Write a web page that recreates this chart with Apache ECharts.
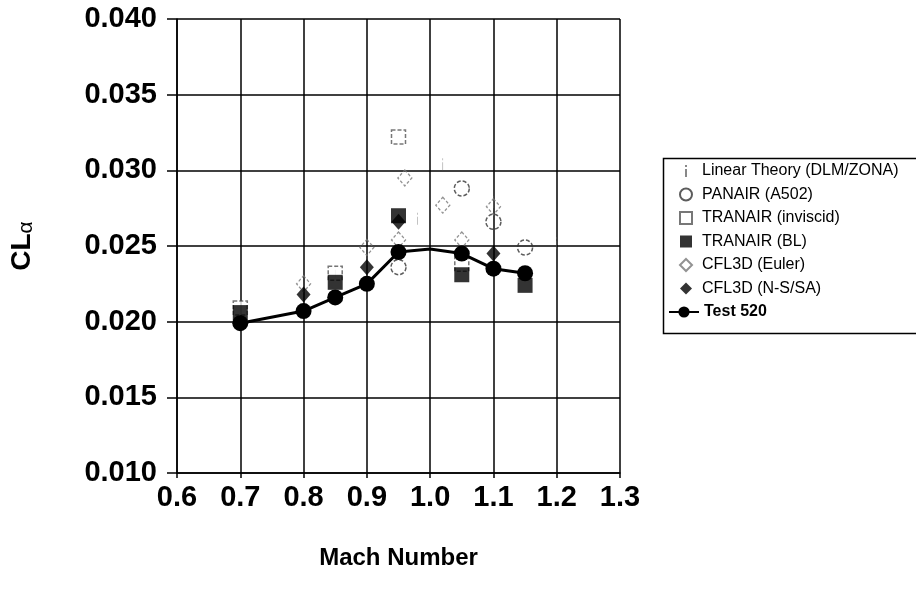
<!DOCTYPE html>
<html><head><meta charset="utf-8">
<script src="https://cdn.jsdelivr.net/npm/echarts@6/dist/echarts.min.js"></script>
<style>html,body{margin:0;padding:0;background:#fff}#c{width:916px;height:597px}</style>
</head><body><div id="c"></div>
<script>
// ---- data ----
const yTicks = [0.010, 0.015, 0.020, 0.025, 0.030, 0.035, 0.040];
const xTicks = [0.6, 0.7, 0.8, 0.9, 1.0, 1.1, 1.2, 1.3];
const linearTheory = [[0.7,0.0208],[0.85,0.0233],[0.98,0.0268],[1.02,0.0304],[1.1,0.0279],[1.2,0.0252]];
const panair = [[0.95,0.0236],[1.05,0.0288],[1.1,0.0266],[1.15,0.0249]];
const tranairInviscid = [[0.7,0.0209],[0.85,0.0232],[0.95,0.0322],[1.05,0.0238]];
const tranairBL = [[0.7,0.0206],[0.85,0.0226],[0.95,0.0270],[1.05,0.0231],[1.15,0.0224]];
const cfl3dEuler = [[0.8,0.0225],[0.9,0.0249],[0.95,0.0254],[0.96,0.0295],[1.02,0.0277],[1.05,0.0254],[1.1,0.0276]];
const cfl3dNS = [[0.8,0.0218],[0.9,0.0236],[0.95,0.0266],[1.1,0.0245]];
const test520 = [[0.7,0.0199],[0.8,0.0207],[0.85,0.0216],[0.9,0.0225],[0.95,0.0246],[1.0,0.0248],[1.05,0.0245],[1.1,0.0235],[1.15,0.0232]];
const test520Hidden = [1.0]; // polyline vertex drawn without a marker

const FONT = '"Liberation Sans", Arial, sans-serif';
const chart = echarts.init(document.getElementById('c'), null, {renderer:'canvas'});
const iPath = 'path://M0,0h2v2h-2z M0,4h2v8h-2z';

const option = {
  backgroundColor:'#fff',
  animation:false,
  grid:{left:177, right:296, top:19, bottom:124},
  xAxis:{
    type:'value', min:0.6, max:1.3, interval:0.1,
    name:'Mach Number', nameLocation:'middle', nameGap:73,
    nameTextStyle:{fontFamily:FONT, fontSize:24, fontWeight:'bold', color:'#000'},
    axisLine:{lineStyle:{color:'#000', width:1.5}},
    axisTick:{show:true, length:5, lineStyle:{color:'#000', width:1.5}},
    axisLabel:{fontFamily:FONT, fontSize:29, fontWeight:'bold', color:'#000', margin:10,
      formatter:v=>{const t=xTicks.find(x=>Math.abs(x-v)<1e-6);return t!==undefined?t.toFixed(1):'';}},
    splitLine:{show:true, lineStyle:{color:'#000', width:1.5}}
  },
  yAxis:{
    type:'value', min:0.010, max:0.040, interval:0.005,
    name:'{a|CL}{b|α}', nameLocation:'middle', nameGap:140, nameRotate:90,
    nameTextStyle:{rich:{
      a:{fontFamily:FONT, fontSize:28, fontWeight:'bold', color:'#000'},
      b:{fontFamily:FONT, fontSize:21, color:'#000', padding:[9,0,0,0]}
    }},
    axisLine:{show:true, lineStyle:{color:'#000', width:1.5}},
    axisTick:{show:true, inside:false, length:10, lineStyle:{color:'#000', width:1.5}},
    axisLabel:{fontFamily:FONT, fontSize:29, fontWeight:'bold', color:'#000', margin:20,
      formatter:v=>{const t=yTicks.find(x=>Math.abs(x-v)<1e-7);return t!==undefined?t.toFixed(3):'';}},
    splitLine:{show:true, lineStyle:{color:'#000', width:1.5}}
  },
  legend:[{
    orient:'vertical', left:674, top:158, itemWidth:12, itemHeight:12, itemGap:7.5,
    textStyle:{fontFamily:FONT, fontSize:16, color:'#000', padding:[0,0,0,5]},
    data:['Linear Theory (DLM/ZONA)','PANAIR (A502)','TRANAIR (inviscid)','TRANAIR (BL)','CFL3D (Euler)','CFL3D (N-S/SA)']
  },{
    orient:'vertical', left:663, top:299, itemWidth:30, itemHeight:14,
    textStyle:{fontFamily:FONT, fontSize:16, fontWeight:'bold', color:'#000', padding:[0,0,0,0]},
    data:['Test 520']
  }],
  graphic:[{type:'rect', left:661, top:156, shape:{width:300, height:175}, style:{fill:'none', stroke:'#000', lineWidth:1.5}, z:-1}],
  series:[
    {name:'Linear Theory (DLM/ZONA)', type:'scatter', data:linearTheory, symbol:iPath, symbolSize:[3,12], symbolKeepAspect:true,
     itemStyle:{color:'#6a6a6a'}, z:2},
    {name:'PANAIR (A502)', type:'scatter', data:panair, symbol:'circle', symbolSize:15,
     itemStyle:{color:'rgba(255,255,255,0)', borderColor:'#333', borderWidth:1.5, borderType:[4,2]}, z:2},
    {name:'TRANAIR (inviscid)', type:'scatter', data:tranairInviscid, symbol:'rect', symbolSize:14,
     itemStyle:{color:'#fff', borderColor:'#555', borderWidth:1.5, borderType:[4,2]}, z:2},
    {name:'TRANAIR (BL)', type:'scatter', data:tranairBL, symbol:'rect', symbolSize:15,
     itemStyle:{color:'#000'}, z:4},
    {name:'CFL3D (Euler)', type:'scatter', data:cfl3dEuler, symbol:'diamond', symbolSize:[14,16],
     itemStyle:{color:'rgba(255,255,255,0)', borderColor:'#777', borderWidth:1.3, borderType:[3,2]}, z:2},
    {name:'CFL3D (N-S/SA)', type:'scatter', data:cfl3dNS, symbol:'diamond', symbolSize:[14,16],
     itemStyle:{color:'#000'}, z:4},
    {name:'Test 520', type:'line', symbol:'circle', symbolSize:16, showSymbol:true,
     data:test520.map(p=>test520Hidden.includes(p[0])?{value:p, symbol:'none'}:{value:p}),
     lineStyle:{color:'#000', width:3}, itemStyle:{color:'#000'}, z:5}
  ]
};
chart.setOption(option);
</script></body></html>
